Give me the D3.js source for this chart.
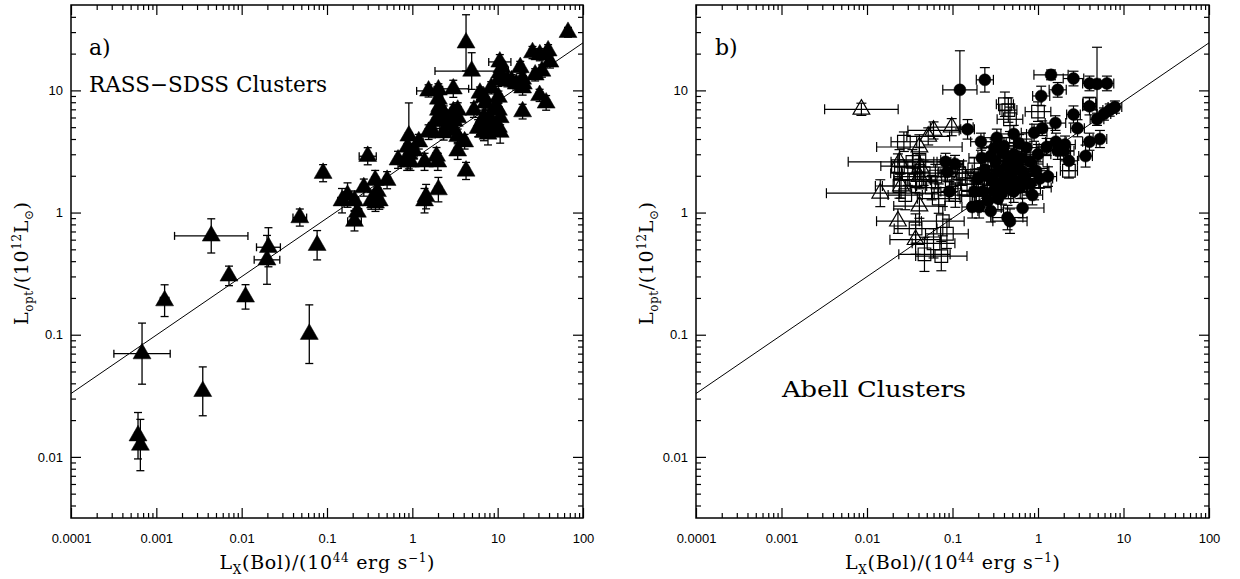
<!DOCTYPE html>
<html>
<head>
<meta charset="utf-8">
<script src="https://cdn.jsdelivr.net/npm/d3@7"></script>
<style>
  body { margin: 0; background: #fff; }
  svg { display: block; }
  .tick text { font-family: "Liberation Sans", Arial, sans-serif; font-size: 13px; fill: #000; }
  .tick line { stroke: #000; stroke-width: 1.2; }
  .title { font-family: "DejaVu Serif", "Liberation Serif", serif; font-size: 19px; fill: #000; }
  .note { font-family: "DejaVu Serif", "Liberation Serif", serif; font-size: 22px; fill: #000; }
</style>
</head>
<body>
<div id="chart"></div>
<script>
// ---- data: [Lx, Lopt, xErr (dex), yErr (dex)] ----
// a) RASS-SDSS clusters (filled triangles)
const rassPoints = [
  [0.00068, 0.070, 0.33, 0.25], [0.00061, 0.0149, 0.04, 0.19], [0.00065, 0.0125, 0.04, 0.21],
  [0.00125, 0.19, 0.05, 0.13], [0.0035, 0.0344, 0.03, 0.2], [0.0044, 0.644, 0.43, 0.14],
  [0.0071, 0.303, 0.03, 0.08], [0.0111, 0.204, 0.03, 0.1], [0.0198, 0.41, 0.15, 0.2],
  [0.0206, 0.52, 0.14, 0.16], [0.048, 0.91, 0.08, 0.07], [0.062, 0.101, 0.03, 0.24],
  [0.0766, 0.54, 0.03, 0.12], [0.09, 2.1, 0.03, 0.07], [0.15, 1.25, 0.05, 0.1],
  [0.174, 1.39, 0.05, 0.1], [0.21, 1.25, 0.05, 0.08], [0.227, 1.01, 0.05, 0.08],
  [0.21, 0.85, 0.08, 0.08], [0.30, 2.89, 0.1, 0.07], [0.27, 1.6, 0.04, 0.07],
  [0.33, 1.25, 0.04, 0.07], [0.367, 1.84, 0.04, 0.08], [0.39, 1.49, 0.04, 0.07],
  [0.41, 1.25, 0.04, 0.07], [0.37, 1.2, 0.04, 0.07], [0.506, 1.84, 0.04, 0.07],
  [0.68, 2.7, 0.04, 0.07], [0.88, 3.44, 0.04, 0.07], [0.91, 4.24, 0.04, 0.27],
  [0.95, 2.6, 0.04, 0.07], [1.19, 3.8, 0.05, 0.06], [1.05, 3.2, 0.04, 0.06],
  [1.39, 2.6, 0.04, 0.07], [1.39, 1.25, 0.04, 0.1], [1.45, 1.35, 0.04, 0.1],
  [1.55, 9.9, 0.14, 0.05], [2.02, 10.1, 0.05, 0.05], [3.02, 10.3, 0.18, 0.07],
  [2.02, 8.5, 0.05, 0.05], [1.55, 4.55, 0.04, 0.06], [1.7, 4.7, 0.04, 0.06],
  [1.99, 2.6, 0.04, 0.07], [1.92, 2.9, 0.04, 0.07], [2.02, 1.54, 0.04, 0.1],
  [2.1, 5.6, 0.04, 0.06], [2.33, 6.5, 0.04, 0.06], [2.02, 6.9, 0.04, 0.06],
  [2.8, 6.0, 0.04, 0.06], [3.02, 6.7, 0.04, 0.06], [3.4, 6.0, 0.04, 0.06],
  [3.1, 4.7, 0.04, 0.06], [3.4, 4.2, 0.04, 0.06], [4.1, 3.8, 0.04, 0.06],
  [3.4, 3.2, 0.04, 0.07], [4.26, 24.5, 0.04, 0.23], [4.96, 14.4, 0.43, 0.15],
  [4.26, 2.19, 0.04, 0.07], [2.33, 4.5, 0.04, 0.06], [2.6, 5.2, 0.04, 0.06],
  [1.88, 5.6, 0.04, 0.06], [6.2, 9.5, 0.04, 0.05], [6.9, 8.8, 0.04, 0.05],
  [7.2, 7.9, 0.04, 0.05], [8.4, 10.5, 0.04, 0.05], [10.2, 12.1, 0.04, 0.05],
  [10.6, 17.1, 0.13, 0.06], [11.2, 15.4, 0.04, 0.05], [10.6, 13.9, 0.04, 0.05],
  [13, 12, 0.04, 0.05], [10.2, 8.8, 0.04, 0.05], [10.2, 6.9, 0.04, 0.06],
  [10.7, 6.0, 0.04, 0.06], [9.5, 7.4, 0.04, 0.06], [6.2, 5.0, 0.04, 0.06],
  [6.9, 4.55, 0.04, 0.07], [8.0, 4.9, 0.04, 0.07], [8.7, 5.4, 0.04, 0.07],
  [10.2, 5.0, 0.04, 0.07], [10.7, 4.55, 0.04, 0.09], [6.9, 6.0, 0.04, 0.06],
  [8.0, 6.0, 0.04, 0.06], [5.9, 4.9, 0.04, 0.07], [7.7, 4.4, 0.04, 0.09],
  [14.5, 12.0, 0.04, 0.05], [16.5, 11.3, 0.04, 0.05], [18.4, 15.4, 0.04, 0.05],
  [19.6, 12.4, 0.04, 0.05], [19.6, 10.5, 0.04, 0.06], [19.6, 6.7, 0.04, 0.06],
  [25.6, 20.4, 0.04, 0.05], [31.2, 19.6, 0.04, 0.05], [39, 21.1, 0.04, 0.05],
  [33, 14.4, 0.04, 0.05], [41, 17.1, 0.04, 0.05], [27.5, 13.4, 0.04, 0.05],
  [31, 9.1, 0.04, 0.05], [37, 7.9, 0.04, 0.06], [66.7, 29.9, 0.04, 0.04],
  [20, 11.3, 0.04, 0.06], [0.91, 3.0, 0.04, 0.07], [0.87, 2.6, 0.04, 0.07],
  [2.1, 7.4, 0.04, 0.06], [3.1, 5.6, 0.04, 0.06], [5.27, 6.9, 0.04, 0.06],
  [6.6, 5.6, 0.04, 0.06], [3.4, 6.9, 0.04, 0.06]
];

// b) Abell clusters, three sub-samples
const abellCircles = [
  [0.122, 10.1, 0.2, 0.32], [0.239, 12.2, 0.1, 0.1], [0.15, 4.8, 0.08, 0.08],
  [1.42, 13.4, 0.2, 0.04], [2.6, 12.5, 0.12, 0.06], [1.7, 10.1, 0.1, 0.06],
  [1.09, 9.0, 0.1, 0.08], [4.0, 11.4, 0.08, 0.06], [4.9, 11.3, 0.1, 0.3],
  [6.4, 11.4, 0.08, 0.06], [4.0, 7.4, 0.08, 0.07], [2.6, 6.35, 0.08, 0.07],
  [2.9, 4.9, 0.08, 0.07], [7.94, 7.3, 0.08, 0.05], [6.9, 6.9, 0.08, 0.05],
  [5.9, 6.4, 0.08, 0.05], [4.9, 5.8, 0.08, 0.05], [4.0, 3.8, 0.08, 0.07],
  [5.3, 4.0, 0.08, 0.07], [3.6, 2.9, 0.08, 0.09], [2.3, 2.65, 0.1, 0.08],
  [1.31, 1.97, 0.1, 0.08], [0.86, 1.39, 0.12, 0.08], [0.81, 1.71, 0.1, 0.08],
  [0.66, 1.09, 0.25, 0.08], [0.47, 0.85, 0.2, 0.1], [0.44, 0.91, 0.18, 0.1],
  [0.28, 1.03, 0.15, 0.09], [0.17, 1.11, 0.12, 0.09], [0.205, 1.11, 0.12, 0.09],
  [0.083, 2.6, 0.1, 0.07], [0.107, 2.5, 0.1, 0.07], [0.092, 1.49, 0.1, 0.08],
  [0.087, 2.15, 0.1, 0.08], [0.215, 3.8, 0.12, 0.07], [0.33, 4.1, 0.15, 0.07],
  [0.52, 4.4, 0.15, 0.07], [0.38, 3.1, 0.15, 0.07], [1.6, 5.4, 0.12, 0.06],
  [1.12, 4.9, 0.12, 0.06], [1.26, 3.44, 0.12, 0.07], [1.62, 3.8, 0.12, 0.07],
  [2.0, 3.2, 0.12, 0.07], [2.07, 3.6, 0.12, 0.07], [0.9, 4.5, 0.15, 0.07],
  [0.52, 3.0, 0.15, 0.07], [0.6, 2.25, 0.15, 0.08], [0.43, 2.4, 0.15, 0.08],
  [0.32, 2.6, 0.15, 0.08], [0.24, 2.25, 0.15, 0.08], [0.3, 1.84, 0.15, 0.08],
  [0.36, 1.71, 0.15, 0.08], [0.47, 1.97, 0.15, 0.08], [0.64, 2.8, 0.15, 0.08],
  [0.73, 3.4, 0.15, 0.07], [0.34, 1.3, 0.15, 0.09], [0.38, 1.44, 0.15, 0.09],
  [0.226, 1.49, 0.15, 0.09], [0.18, 1.49, 0.15, 0.09], [0.52, 1.49, 0.15, 0.09],
  [0.81, 2.6, 0.15, 0.08], [1.0, 3.0, 0.15, 0.08], [1.7, 3.2, 0.15, 0.07],
  [0.6, 3.7, 0.15, 0.07], [0.31, 3.4, 0.15, 0.07], [0.25, 2.0, 0.15, 0.08],
  [0.28, 2.9, 0.15, 0.08], [0.35, 2.2, 0.15, 0.08], [0.42, 1.9, 0.15, 0.08],
  [0.45, 2.8, 0.15, 0.08], [0.5, 2.3, 0.15, 0.08], [0.55, 1.8, 0.15, 0.08],
  [0.58, 2.6, 0.15, 0.08], [0.4, 3.5, 0.15, 0.07], [0.3, 1.5, 0.15, 0.09],
  [0.26, 1.25, 0.15, 0.09], [0.45, 1.6, 0.15, 0.09], [0.62, 1.6, 0.15, 0.09],
  [0.7, 2.0, 0.15, 0.08], [0.75, 1.75, 0.15, 0.08], [0.95, 2.2, 0.15, 0.08],
  [1.05, 1.9, 0.15, 0.08], [0.22, 2.8, 0.15, 0.08], [0.2, 1.9, 0.15, 0.08]
];
const abellSquares = [
  [0.41, 7.7, 0.1, 0.1], [0.45, 6.9, 0.1, 0.1], [0.47, 5.8, 0.15, 0.1],
  [1.0, 6.7, 0.15, 0.08], [2.3, 2.2, 0.1, 0.06], [4.0, 7.8, 0.08, 0.05],
  [0.027, 3.8, 0.15, 0.08], [0.023, 2.4, 0.2, 0.1], [0.034, 2.6, 0.25, 0.1],
  [0.041, 2.7, 0.25, 0.1], [0.024, 1.65, 0.2, 0.1], [0.028, 1.39, 0.2, 0.12],
  [0.037, 1.84, 0.25, 0.1], [0.046, 2.1, 0.25, 0.1], [0.057, 1.6, 0.25, 0.1],
  [0.069, 1.3, 0.25, 0.12], [0.077, 0.85, 0.25, 0.12], [0.086, 0.67, 0.25, 0.12],
  [0.06, 0.56, 0.25, 0.12], [0.047, 0.455, 0.3, 0.14], [0.074, 0.44, 0.3, 0.12],
  [0.037, 0.74, 0.25, 0.12], [0.098, 1.84, 0.25, 0.1], [0.148, 1.71, 0.2, 0.1],
  [0.12, 2.1, 0.25, 0.1], [0.18, 2.25, 0.2, 0.1], [0.26, 2.1, 0.2, 0.1],
  [0.2, 1.71, 0.2, 0.1], [0.19, 1.39, 0.2, 0.1], [0.063, 1.97, 0.25, 0.1],
  [0.81, 2.3, 0.2, 0.1], [0.66, 1.97, 0.2, 0.1], [0.9, 1.6, 0.2, 0.1],
  [0.35, 2.1, 0.2, 0.1], [0.108, 1.39, 0.2, 0.1], [0.03, 2.1, 0.2, 0.1]
];
const abellTriangles = [
  [0.0086, 7.0, 0.43, 0.05], [0.0143, 1.44, 0.63, 0.11], [0.024, 2.6, 0.6, 0.1],
  [0.025, 1.65, 0.3, 0.1], [0.023, 0.85, 0.25, 0.1], [0.041, 3.44, 0.5, 0.1],
  [0.042, 2.35, 0.3, 0.1], [0.041, 1.97, 0.3, 0.1], [0.041, 1.13, 0.3, 0.1],
  [0.037, 0.6, 0.3, 0.12], [0.06, 4.7, 0.3, 0.07], [0.098, 5.0, 0.25, 0.07],
  [0.13, 2.1, 0.25, 0.1], [0.052, 4.2, 0.25, 0.07]
];

// best-fit relation (same in both panels)
const fitLx = [0.0001, 100];
const fitLopt = [0.033, 24.5];

// axes
const xDomain = [1e-4, 100];
const yDomain = [0.00316, 50];
const xTickValues = [1e-4, 1e-3, 1e-2, 0.1, 1, 10, 100];
const xTickLabels = ["0.0001", "0.001", "0.01", "0.1", "1", "10", "100"];
const yTickValues = [0.01, 0.1, 1, 10];
const yTickLabels = ["0.01", "0.1", "1", "10"];

// ---- drawing ----
const W = 1240, H = 579;
const svg = d3.select("#chart").append("svg")
  .attr("width", W).attr("height", H);

function minorTicks(domain) {
  let out = [];
  for (let k = -6; k <= 3; k++) {
    for (let m = 2; m <= 9; m++) {
      let v = m * Math.pow(10, k);
      if (v > domain[0] * 1.0001 && v < domain[1] * 0.9999) out.push(v);
    }
  }
  return out;
}

function drawPanel(box) {
  const x = d3.scaleLog().domain(xDomain).range([box.left, box.right]);
  const y = d3.scaleLog().domain(yDomain).range([box.bottom, box.top]);
  const g = svg.append("g");
  const noDomain = s => s.select(".domain").remove();

  // minor ticks, all four sides, pointing in
  g.append("g").attr("transform", `translate(0,${box.bottom})`)
    .call(d3.axisBottom(x).tickValues(minorTicks(xDomain)).tickSize(-5).tickFormat("")).call(noDomain);
  g.append("g").attr("transform", `translate(0,${box.top})`)
    .call(d3.axisTop(x).tickValues(minorTicks(xDomain)).tickSize(-5).tickFormat("")).call(noDomain);
  g.append("g").attr("transform", `translate(${box.left},0)`)
    .call(d3.axisLeft(y).tickValues(minorTicks(yDomain)).tickSize(-5).tickFormat("")).call(noDomain);
  g.append("g").attr("transform", `translate(${box.right},0)`)
    .call(d3.axisRight(y).tickValues(minorTicks(yDomain)).tickSize(-5).tickFormat("")).call(noDomain);

  // major ticks
  g.append("g").attr("transform", `translate(0,${box.bottom})`)
    .call(d3.axisBottom(x).tickValues(xTickValues).tickSize(-10).tickPadding(16)
      .tickFormat((d, i) => xTickLabels[i])).call(noDomain);
  g.append("g").attr("transform", `translate(0,${box.top})`)
    .call(d3.axisTop(x).tickValues(xTickValues).tickSize(-10).tickFormat("")).call(noDomain);
  g.append("g").attr("transform", `translate(${box.left},0)`)
    .call(d3.axisLeft(y).tickValues(yTickValues).tickSize(-10).tickPadding(8)
      .tickFormat((d, i) => yTickLabels[i])).call(noDomain);
  g.append("g").attr("transform", `translate(${box.right},0)`)
    .call(d3.axisRight(y).tickValues(yTickValues).tickSize(-10).tickFormat("")).call(noDomain);

  // frame
  g.append("rect")
    .attr("x", box.left).attr("y", box.top)
    .attr("width", box.right - box.left).attr("height", box.bottom - box.top)
    .attr("fill", "none").attr("stroke", "#000").attr("stroke-width", 1.5);

  // fit line
  g.append("path")
    .datum(d3.zip(fitLx, fitLopt))
    .attr("d", d3.line().x(d => x(d[0])).y(d => y(d[1])))
    .attr("fill", "none").attr("stroke", "#000").attr("stroke-width", 1);

  // axis titles
  const xt = g.append("text").attr("class", "title")
    .attr("x", (box.left + box.right) / 2).attr("y", box.bottom + 51)
    .attr("text-anchor", "middle")
    .attr("textLength", 215).attr("lengthAdjust", "spacing");
  xt.append("tspan").text("L");
  xt.append("tspan").attr("font-size", 12).attr("dy", 5).text("X");
  xt.append("tspan").attr("dy", -5).text("(Bol)/(10");
  xt.append("tspan").attr("font-size", 12).attr("dy", -7).text("44");
  xt.append("tspan").attr("dy", 7).text(" erg s");
  xt.append("tspan").attr("font-size", 12).attr("dy", -7).text("\u22121");
  xt.append("tspan").attr("dy", 7).text(")");

  const yt = g.append("text").attr("class", "title")
    .attr("transform", `translate(${box.left - 43},${(box.top + box.bottom) / 2 + 2}) rotate(-90)`)
    .attr("text-anchor", "middle")
    .attr("textLength", 123).attr("lengthAdjust", "spacing");
  yt.append("tspan").text("L");
  yt.append("tspan").attr("font-size", 12).attr("dy", 5).text("opt");
  yt.append("tspan").attr("dy", -5).text("/(10");
  yt.append("tspan").attr("font-size", 12).attr("dy", -7).text("12");
  yt.append("tspan").attr("dy", 7).text("L");
  yt.append("tspan").attr("font-size", 12).attr("dy", 5).text("\u2299");
  yt.append("tspan").attr("dy", -5).text(")");

  return { g, x, y };
}

function drawSeries(p, data, opt) {
  const { g, x, y } = p;
  const s = g.append("g");
  const eb = s.append("g").attr("stroke", "#000").attr("stroke-width", opt.ebWidth).attr("fill", "none");
  const c = opt.cap / 2;
  data.forEach(d => {
    const [lx, lo, dx, dy] = d;
    const px = x(lx), py = y(lo);
    const x0 = x(lx / Math.pow(10, dx)), x1 = x(lx * Math.pow(10, dx));
    const y0 = y(lo / Math.pow(10, dy)), y1 = y(lo * Math.pow(10, dy));
    eb.append("line").attr("x1", x0).attr("x2", x1).attr("y1", py).attr("y2", py);
    eb.append("line").attr("x1", x0).attr("x2", x0).attr("y1", py - c).attr("y2", py + c);
    eb.append("line").attr("x1", x1).attr("x2", x1).attr("y1", py - c).attr("y2", py + c);
    eb.append("line").attr("x1", px).attr("x2", px).attr("y1", y0).attr("y2", y1);
    eb.append("line").attr("x1", px - c).attr("x2", px + c).attr("y1", y0).attr("y2", y0);
    eb.append("line").attr("x1", px - c).attr("x2", px + c).attr("y1", y1).attr("y2", y1);
  });
  s.selectAll("path.sym").data(data).enter().append("path")
    .attr("class", "sym")
    .attr("d", d3.symbol(opt.type, opt.size))
    .attr("transform", d => `translate(${x(d[0])},${y(d[1])})`)
    .attr("fill", opt.filled ? "#000" : "none")
    .attr("stroke", "#000").attr("stroke-width", opt.filled ? 0.5 : 1.2);
}

// panel a
const pa = drawPanel({ left: 71, right: 583, top: 5, bottom: 518 });
drawSeries(pa, rassPoints, { type: d3.symbolTriangle, size: 140, filled: true, cap: 8, ebWidth: 1.3 });
pa.g.append("text").attr("class", "note").attr("x", 89).attr("y", 55).text("a)");
pa.g.append("text").attr("class", "note").attr("x", 89).attr("y", 92)
  .attr("textLength", 238).attr("lengthAdjust", "spacingAndGlyphs").text("RASS\u2212SDSS Clusters");

// panel b
const pb = drawPanel({ left: 696, right: 1209, top: 5, bottom: 518 });
drawSeries(pb, abellSquares, { type: d3.symbolSquare, size: 160, filled: false, cap: 10, ebWidth: 1.2 });
drawSeries(pb, abellTriangles, { type: d3.symbolTriangle, size: 121, filled: false, cap: 10, ebWidth: 1.2 });
drawSeries(pb, abellCircles, { type: d3.symbolCircle, size: 113, filled: true, cap: 10, ebWidth: 1.2 });
pb.g.append("text").attr("class", "note").attr("x", 715).attr("y", 55).text("b)");
pb.g.append("text").attr("class", "note").attr("x", 782).attr("y", 397)
  .attr("textLength", 184).attr("lengthAdjust", "spacingAndGlyphs").text("Abell Clusters");
</script>
</body>
</html>
